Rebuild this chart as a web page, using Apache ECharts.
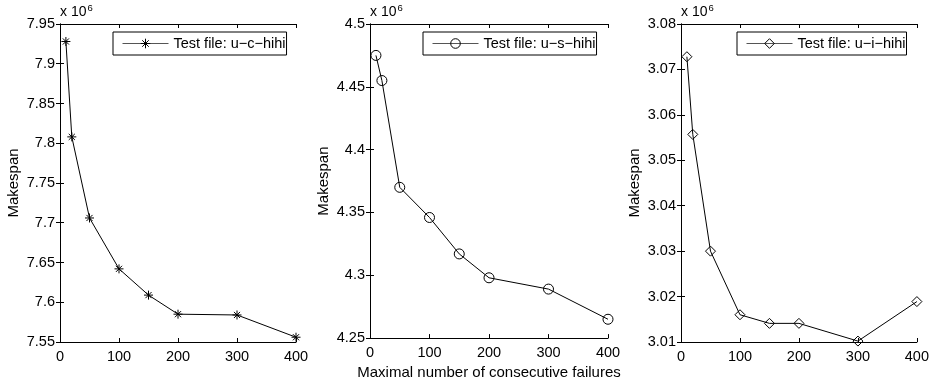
<!DOCTYPE html>
<html>
<head>
<meta charset="utf-8">
<script src="https://cdn.jsdelivr.net/npm/echarts@6/dist/echarts.min.js"></script>
<style>
  html, body { margin: 0; padding: 0; background: #fff; }
  #chart { width: 932px; height: 385px; }
</style>
</head>
<body>
<div id="chart"></div>
<script>
// x positions shared by all three test files
const failures = [10, 20, 50, 100, 150, 200, 300, 400];

// makespan values, in units of 10^6
const ucHihi = [7.928, 7.808, 7.706, 7.642, 7.609, 7.585, 7.584, 7.556];
const usHihi = [4.475, 4.455, 4.370, 4.346, 4.317, 4.298, 4.289, 4.265];
const uiHihi = [3.0728, 3.0557, 3.0300, 3.0160, 3.0141, 3.0141, 3.0102, 3.0189];

const seriesNames = ["Test file: u\u2212c\u2212hihi", "Test file: u\u2212s\u2212hihi", "Test file: u\u2212i\u2212hihi"];
const yRanges = [
  { min: 7.55, max: 7.95, interval: 0.05 },
  { min: 4.25, max: 4.5, interval: 0.05 },
  { min: 3.01, max: 3.08, interval: 0.01 },
];
const xTicks = { min: 0, max: 400, interval: 100 };
const xLabel = "Maximal number of consecutive failures";
const yLabel = "Makespan";

const FONT = "'Liberation Sans', Arial, Helvetica, sans-serif";
const ASTERISK = "path://M5,0L5,10M0,5L10,5M1.6,1.6L8.4,8.4M1.6,8.4L8.4,1.6";

const panels = [
  { values: ucHihi, symbol: ASTERISK, size: 9, grid: { left: 60, width: 236 }, legendLeft: 113 },
  { values: usHihi, symbol: "circle", size: 10, grid: { left: 370, width: 238 }, legendLeft: 423 },
  { values: uiHihi, symbol: "diamond", size: 10, grid: { left: 681, width: 236 }, legendLeft: 737 },
];

const chart = echarts.init(document.getElementById("chart"));

const grid = [], xAxis = [], yAxis = [], series = [], legend = [], title = [];

const tickStyle = { show: true, inside: true, length: 4, lineStyle: { color: "#000", width: 1 } };
const lineStyle = { show: true, lineStyle: { color: "#000", width: 1 } };
const labelStyle = { color: "#000", fontSize: 14.5, fontFamily: FONT };
const nameStyle = { color: "#000", fontSize: 15, fontFamily: FONT };

panels.forEach((p, i) => {
  grid.push({ left: p.grid.left, width: p.grid.width, top: 24, height: 318 });

  xAxis.push({
    type: "value", gridIndex: i, position: "bottom", ...xTicks,
    axisLine: lineStyle, axisTick: tickStyle, splitLine: { show: false },
    axisLabel: { ...labelStyle, margin: 7 },
    name: i === 1 ? xLabel : "", nameLocation: "middle", nameGap: 19,
    nameTextStyle: nameStyle,
  });
  xAxis.push({
    type: "value", gridIndex: i, position: "top", ...xTicks,
    axisLine: lineStyle, axisTick: tickStyle, splitLine: { show: false },
    axisLabel: { show: false },
  });

  yAxis.push({
    type: "value", gridIndex: i, position: "left", ...yRanges[i],
    axisLine: lineStyle, axisTick: tickStyle, splitLine: { show: false },
    axisLabel: { ...labelStyle, margin: 5 },
    name: yLabel, nameLocation: "middle", nameGap: 39,
    nameTextStyle: nameStyle,
  });
  yAxis.push({
    type: "value", gridIndex: i, position: "right", ...yRanges[i],
    axisLine: lineStyle, axisTick: tickStyle, splitLine: { show: false },
    axisLabel: { show: false },
  });

  series.push({
    name: seriesNames[i],
    type: "line",
    xAxisIndex: i * 2,
    yAxisIndex: i * 2,
    data: failures.map((x, k) => [x, p.values[k]]),
    symbol: p.symbol,
    symbolSize: p.size,
    symbolKeepAspect: true,
    showAllSymbol: true,
    lineStyle: { color: "#000", width: 1 },
    itemStyle: { color: "none", borderColor: "#000", borderWidth: 1 },
    emphasis: { disabled: true },
    animation: false,
  });

  legend.push({
    data: [seriesNames[i]],
    left: p.legendLeft, top: 32,
    orient: "horizontal",
    itemWidth: 46, itemHeight: 12,
    padding: [4, 1, 4, 9],
    borderColor: "#000", borderWidth: 1,
    backgroundColor: "#fff",
    selectedMode: false,
    lineStyle: { color: "#555", width: 1 },
    itemStyle: { color: "none", borderColor: "#000", borderWidth: 1 },
    textStyle: { color: "#000", fontSize: 14.5, fontFamily: FONT },
  });

  title.push({
    text: "x 10{sup|6}",
    left: p.grid.left, top: 3,
    padding: 0,
    textStyle: {
      color: "#000", fontSize: 14, fontWeight: "normal", fontFamily: FONT,
      rich: { sup: { fontSize: 9.5, fontFamily: FONT, color: "#000", verticalAlign: "top", padding: [0, 0, 9, 1] } },
    },
  });
});

chart.setOption({
  animation: false,
  title, grid, xAxis, yAxis, series, legend,
});
</script>
</body>
</html>
